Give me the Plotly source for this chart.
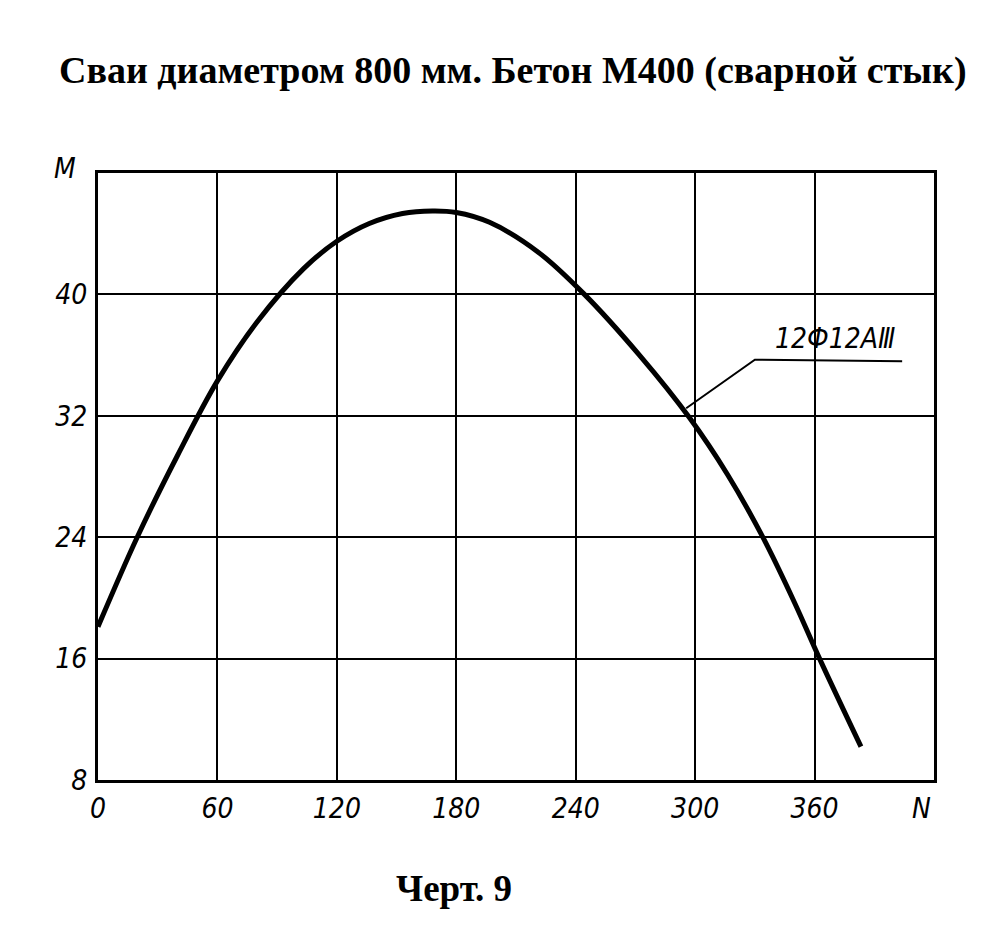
import plotly.graph_objects as go

N_vals = [0, 19.7, 40, 60, 80, 103.3, 120, 136.3, 153, 168, 180,
          196.7, 221, 244, 272, 297, 316.4, 334, 349.9, 362.5, 383.3]
M_vals = [18.1, 24, 29.4, 34.3, 38.2, 41.7, 43.5, 44.67, 45.33, 45.5, 45.4,
          44.75, 42.8, 40.05, 36.0, 31.9, 28.1, 24, 19.7, 16, 10.2]

x_ticks = [0, 60, 120, 180, 240, 300, 360]
y_ticks = [8, 16, 24, 32, 40]

leader_N = [295.5, 330, 404]
leader_M = [32.5, 35.7, 35.6]

title_text = "Сваи диаметром 800 мм. Бетон М400 (сварной стык)"
footer_text = "Черт. 9"
label_text = "12Ф12АⅢ"

# plot area in the reference (px): x 97..933, y 171..778
PX_L, PX_R, PX_T, PX_B = 97, 933, 171, 778
PW, PH = PX_R - PX_L, PX_B - PX_T
OFF_X, OFF_Y = 7, 6  # page body margin compensation

narrow = "Liberation Sans Narrow, DejaVu Sans Condensed, Liberation Sans"
tick_font = dict(family=narrow, size=28, color="black", style="italic")
serif = "Liberation Serif, DejaVu Serif"


def px(x, y):
    return (x - PX_L) / PW, (PX_B - y) / PH


fig = go.Figure()
fig.add_trace(go.Scatter(x=N_vals, y=M_vals, mode="lines",
                         line=dict(color="black", width=5, shape="spline", smoothing=1.0),
                         showlegend=False, hoverinfo="skip"))
fig.add_trace(go.Scatter(x=leader_N, y=leader_M, mode="lines",
                         line=dict(color="black", width=2), showlegend=False, hoverinfo="skip"))

fig.update_xaxes(range=[0, 420], tickvals=x_ticks, ticktext=[str(v) for v in x_ticks],
                 showgrid=True, gridcolor="black", gridwidth=2, zeroline=False,
                 showline=True, linecolor="black", linewidth=3, mirror=True,
                 ticks="", tickfont=tick_font, ticklabelstandoff=1)
fig.update_yaxes(range=[8, 48], tickvals=y_ticks, ticktext=[str(v) for v in y_ticks],
                 showgrid=True, gridcolor="black", gridwidth=2, zeroline=False,
                 showline=True, linecolor="black", linewidth=3, mirror=True,
                 ticks="", tickfont=tick_font, ticklabelstandoff=2)

fig.update_layout(
    width=PX_L - OFF_X + PW + (999 - PX_R),
    height=PX_T - OFF_Y + PH + (941 - PX_B),
    margin=dict(l=PX_L - OFF_X, r=999 - PX_R, t=PX_T - OFF_Y, b=941 - PX_B),
    paper_bgcolor="white", plot_bgcolor="white",
)

tx, ty = px(512, 68)
fig.add_annotation(text="<b>" + title_text + "</b>", xref="paper", yref="paper",
                   x=tx, y=ty, xanchor="center", yanchor="middle", showarrow=False,
                   font=dict(family=serif, size=38, color="black"))
fx, fy = px(453, 886)
fig.add_annotation(text="<b>" + footer_text + "</b>", xref="paper", yref="paper",
                   x=fx, y=fy, xanchor="center", yanchor="middle", showarrow=False,
                   font=dict(family=serif, size=37, color="black"))
mx, my = px(64, 167)
fig.add_annotation(text="M", xref="paper", yref="paper", x=mx, y=my,
                   xanchor="center", yanchor="middle", showarrow=False, font=tick_font)
nx, ny = px(920, 806)
fig.add_annotation(text="N", xref="paper", yref="paper", x=nx, y=ny,
                   xanchor="center", yanchor="middle", showarrow=False, font=tick_font)
fig.add_annotation(text=label_text, x=370.5, y=37.1, xref="x", yref="y", xanchor="center",
                   yanchor="middle", showarrow=False,
                   font=dict(family=narrow, size=28, color="black", style="italic"))

fig.write_html("out.html")
